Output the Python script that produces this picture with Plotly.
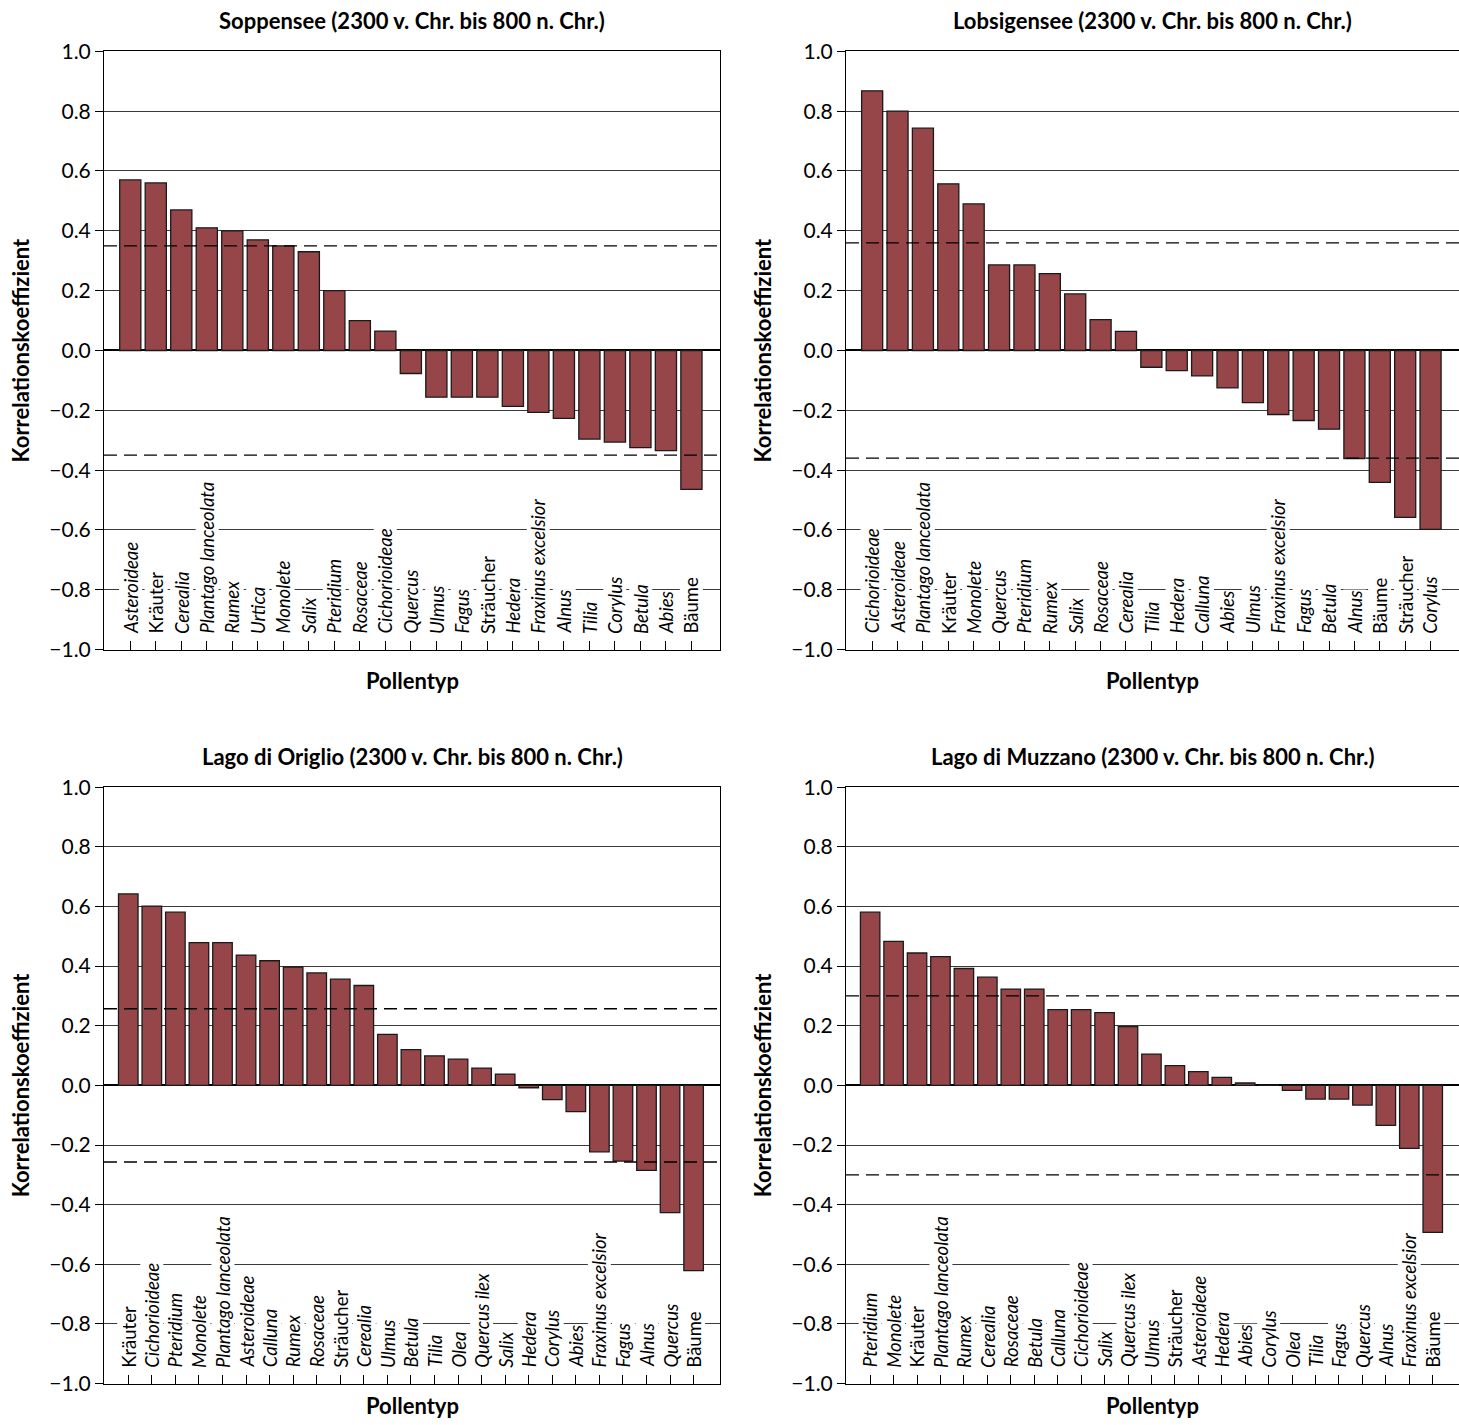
import plotly.graph_objects as go
from plotly.subplots import make_subplots

FONT = "Lato"
BAR_COLOR = "#964649"

# Pollentypen und Korrelationskoeffizienten, je Standort
soppensee_taxa = ["Asteroideae", "Kräuter", "Cerealia", "Plantago lanceolata", "Rumex",
                  "Urtica", "Monolete", "Salix", "Pteridium", "Rosaceae", "Cichorioideae",
                  "Quercus", "Ulmus", "Fagus", "Sträucher", "Hedera", "Fraxinus excelsior",
                  "Alnus", "Tilia", "Corylus", "Betula", "Abies", "Bäume"]
soppensee_r = [0.57, 0.56, 0.47, 0.41, 0.40, 0.37, 0.35, 0.33, 0.20, 0.10, 0.065,
               -0.077, -0.156, -0.156, -0.156, -0.187, -0.207, -0.227, -0.296, -0.306,
               -0.325, -0.335, -0.464]
soppensee_sig = 0.35

lobsigensee_taxa = ["Cichorioideae", "Asteroideae", "Plantago lanceolata", "Kräuter",
                    "Monolete", "Quercus", "Pteridium", "Rumex", "Salix", "Rosaceae",
                    "Cerealia", "Tilia", "Hedera", "Calluna", "Abies", "Ulmus",
                    "Fraxinus excelsior", "Fagus", "Betula", "Alnus", "Bäume",
                    "Sträucher", "Corylus"]
lobsigensee_r = [0.868, 0.80, 0.743, 0.557, 0.49, 0.286, 0.286, 0.257, 0.189, 0.103,
                 0.064, -0.056, -0.067, -0.085, -0.125, -0.174, -0.214, -0.234, -0.263,
                 -0.361, -0.441, -0.558, -0.598]
lobsigensee_sig = 0.36

origlio_taxa = ["Kräuter", "Cichorioideae", "Pteridium", "Monolete", "Plantago lanceolata",
                "Asteroideae", "Calluna", "Rumex", "Rosaceae", "Sträucher", "Cerealia",
                "Ulmus", "Betula", "Tilia", "Olea", "Quercus ilex", "Salix", "Hedera",
                "Corylus", "Abies", "Fraxinus excelsior", "Fagus", "Alnus", "Quercus",
                "Bäume"]
origlio_r = [0.642, 0.601, 0.581, 0.479, 0.479, 0.437, 0.418, 0.397, 0.377, 0.356, 0.335,
             0.171, 0.12, 0.099, 0.088, 0.058, 0.038, -0.008, -0.048, -0.088, -0.223,
             -0.254, -0.285, -0.427, -0.621]
origlio_sig = 0.257

muzzano_taxa = ["Pteridium", "Monolete", "Kräuter", "Plantago lanceolata", "Rumex",
                "Cerealia", "Rosaceae", "Betula", "Calluna", "Cichorioideae", "Salix",
                "Quercus ilex", "Ulmus", "Sträucher", "Asteroideae", "Hedera", "Abies",
                "Corylus", "Olea", "Tilia", "Fagus", "Quercus", "Alnus",
                "Fraxinus excelsior", "Bäume"]
muzzano_r = [0.581, 0.483, 0.444, 0.432, 0.392, 0.363, 0.323, 0.323, 0.254, 0.254, 0.244,
             0.197, 0.105, 0.066, 0.046, 0.027, 0.008, 0.001, -0.017, -0.046, -0.046,
             -0.066, -0.134, -0.211, -0.493]
muzzano_sig = 0.30

# Gruppen werden nicht kursiv gesetzt
groups = ["Kräuter", "Sträucher", "Bäume"]

panels = [
    ("Soppensee (2300 v. Chr. bis 800 n. Chr.)", soppensee_taxa, soppensee_r, soppensee_sig),
    ("Lobsigensee (2300 v. Chr. bis 800 n. Chr.)", lobsigensee_taxa, lobsigensee_r, lobsigensee_sig),
    ("Lago di Origlio (2300 v. Chr. bis 800 n. Chr.)", origlio_taxa, origlio_r, origlio_sig),
    ("Lago di Muzzano (2300 v. Chr. bis 800 n. Chr.)", muzzano_taxa, muzzano_r, muzzano_sig),
]

W, H = 1459, 1425
x_domains = [[104 / W, 720 / W], [846 / W, 1.0]]
y_domains = [[1 - 647 / H, 1 - 38 / H], [1 - 1394 / H, 1 - 787 / H]]

fig = make_subplots(rows=2, cols=2)

for i, (title, taxa, r, sig) in enumerate(panels):
    row, col = i // 2 + 1, i % 2 + 1
    ax = "" if i == 0 else str(i + 1)

    fig.add_trace(go.Bar(
        x=taxa, y=r,
        marker=dict(color=BAR_COLOR, line=dict(color="#1a1a1a", width=1.3)),
        showlegend=False,
    ), row=row, col=col)

    fig.update_xaxes(
        domain=x_domains[col - 1], type="category",
        range=[-1.03, len(taxa) + 0.12],
        showgrid=False, showline=True, linecolor="black", linewidth=1, mirror=True,
        ticks="inside", ticklen=9, tickcolor="black", showticklabels=False,
        row=row, col=col)
    fig.update_yaxes(
        domain=y_domains[row - 1], range=[-1, 1], dtick=0.2, tickformat=".1f",
        showgrid=True, gridcolor="#3a3a3a", gridwidth=1,
        zeroline=True, zerolinecolor="black", zerolinewidth=1.5,
        showline=True, linecolor="black", linewidth=1, mirror=(col == 1),
        ticks="outside", ticklen=8, tickcolor="black",
        tickfont=dict(size=21, color="black", family=FONT),
        row=row, col=col)

    # Signifikanzgrenzen
    for s in (sig, -sig):
        fig.add_shape(type="line", xref=f"x{ax} domain", yref=f"y{ax}",
                      x0=0, x1=1, y0=s, y1=s,
                      line=dict(color="black", width=1.3, dash="13px,7px"))

    # Titel und Achsenbeschriftungen
    fig.add_annotation(xref=f"x{ax} domain", yref=f"y{ax} domain", x=0.5, y=1,
                       yshift=31, yanchor="middle", showarrow=False,
                       text=f"<b>{title}</b>", font=dict(size=22, family=FONT, color="black"))
    fig.add_annotation(xref=f"x{ax} domain", yref=f"y{ax} domain", x=0.5, y=0,
                       yshift=-31 if row == 1 else -22, yanchor="middle", showarrow=False,
                       text="<b>Pollentyp</b>", font=dict(size=22, family=FONT, color="black"))
    fig.add_annotation(xref=f"x{ax} domain", yref=f"y{ax} domain", x=0, y=0.5,
                       xshift=-84, xanchor="center", textangle=-90, showarrow=False,
                       text="<b>Korrelationskoeffizient</b>",
                       font=dict(size=22, family=FONT, color="black"))

    # Pollentyp-Beschriftungen im Diagramm
    for t in taxa:
        label = t if t in groups else f"<i>{t}</i>"
        fig.add_annotation(xref=f"x{ax}", yref=f"y{ax}", x=t, y=-1,
                           yshift=15, yanchor="bottom", xanchor="center",
                           textangle=-90, showarrow=False, bgcolor="white", borderpad=0,
                           text=label, font=dict(size=18.5, family=FONT, color="black"))

fig.update_layout(
    width=W, height=H,
    margin=dict(l=0, r=0, t=0, b=0),
    paper_bgcolor="white", plot_bgcolor="white",
    bargap=0.17,
    font=dict(family=FONT, color="black"),
)

# Seitenrand des Browsers entfernen, damit die Abbildung genau ins Fenster passt
fig.write_html("out.html", config={"displayModeBar": False},
               post_script="document.body.style.margin='0';document.body.style.overflow='hidden';")
